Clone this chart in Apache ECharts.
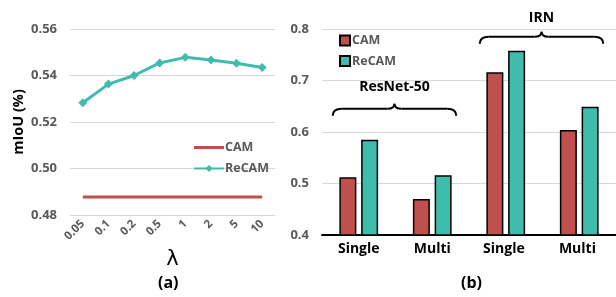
<!DOCTYPE html>
<html><head><meta charset="utf-8">
<script src="https://cdn.jsdelivr.net/npm/echarts@6/dist/echarts.min.js"></script>
<style>html,body{margin:0;padding:0;background:#fff}#c{width:616px;height:297px}</style>
</head><body><div id="c"></div>
<script>
const lambdas = ['0.05','0.1','0.2','0.5','1','2','5','10'];
const recamLine = [0.5283, 0.5363, 0.5400, 0.5454, 0.5478, 0.5467, 0.5453, 0.5434];
const camLine = [0.4877, 0.4877, 0.4877, 0.4877, 0.4877, 0.4877, 0.4877, 0.4877];
const barCats = ['Single','Multi','Single ','Multi '];
const camBar = [0.512, 0.470, 0.716, 0.604];
const recamBar = [0.585, 0.516, 0.758, 0.649];
const leftTicks = [0.48, 0.50, 0.52, 0.54, 0.56];
const rightTicks = [0.4, 0.5, 0.6, 0.7, 0.8];
const groupLabels = ['ResNet-50', 'IRN'];

const RED = '#C0504D', TEAL = '#40BCAC';
const FONT = 'Open Sans';
const chart = echarts.init(document.getElementById('c'));
const gray = '#595959';
chart.setOption({
  animation: false,
  textStyle: {fontFamily: FONT},
  title: [
    {text: '(a)', left: 153, top: 270, textStyle: {fontFamily: FONT, fontSize: 16, fontWeight: 'bold', color: '#000'}},
    {text: '(b)', left: 456, top: 270, textStyle: {fontFamily: FONT, fontSize: 16, fontWeight: 'bold', color: '#000'}}
  ],
  legend: [
    {data: [{name: 'CAM', icon: 'path://M0,0 L30,0 L30,3 L0,3 Z'}, {name: 'ReCAM'}], orient: 'vertical', left: 188, top: 136,
     itemWidth: 30, itemHeight: 9, itemGap: 8, symbolKeepAspect: true,
     textStyle: {fontFamily: FONT, fontSize: 12.5, fontWeight: 'bold', color: gray, padding: [0, 0, 0, -4]}},
    {data: [{name: 'CAM '}, {name: 'ReCAM '}], orient: 'vertical', left: 334, top: 29, itemWidth: 10, itemHeight: 10, itemGap: 7.5,
     icon: 'rect',
     textStyle: {fontFamily: FONT, fontSize: 12.5, fontWeight: 'bold', color: gray, padding: [0, 0, 0, -3]}}
  ],
  grid: [
    {left: 70, top: 29, width: 205, height: 186},
    {left: 322, top: 29, width: 294, height: 206}
  ],
  xAxis: [
    {gridIndex: 0, type: 'category', data: lambdas, boundaryGap: true,
     axisLine: {show: false}, axisTick: {show: false},
     axisLabel: {rotate: 45, fontFamily: FONT, fontSize: 11.5, fontWeight: 'bold', color: gray, margin: 7},
     name: 'λ', nameLocation: 'middle', nameGap: 32,
     nameTextStyle: {fontFamily: 'DejaVu Sans', fontSize: 21, color: '#000'}},
    {gridIndex: 1, type: 'category', data: barCats, boundaryGap: true,
     axisLine: {show: true, lineStyle: {color: '#000', width: 2}}, axisTick: {show: false},
     axisLabel: {fontFamily: FONT, fontSize: 14, fontWeight: 'bold', color: '#000', margin: 7}}
  ],
  yAxis: [
    {gridIndex: 0, type: 'value', min: 0.48, max: 0.56, interval: 0.02,
     axisLine: {show: false}, axisTick: {show: false},
     axisLabel: {fontFamily: FONT, fontSize: 13, fontWeight: 'bold', color: gray, margin: 13,
       formatter: v => v.toFixed(2)},
     splitLine: {lineStyle: {color: '#D9D9D9', width: 1}},
     name: 'mIoU (%)', nameLocation: 'middle', nameGap: 44,
     nameTextStyle: {fontFamily: FONT, fontSize: 14.5, fontWeight: 'bold', color: '#000'}},
    {gridIndex: 1, type: 'value', min: 0.4, max: 0.8, interval: 0.1,
     axisLine: {show: false}, axisTick: {show: false},
     axisLabel: {fontFamily: FONT, fontSize: 13, fontWeight: 'bold', color: gray, margin: 13,
       formatter: v => v.toFixed(1)},
     splitLine: {lineStyle: {color: '#D9D9D9', width: 1}}}
  ],
  series: [
    {name: 'CAM', type: 'line', xAxisIndex: 0, yAxisIndex: 0, data: camLine, showSymbol: false, symbol: 'none',
     lineStyle: {color: RED, width: 3}, itemStyle: {color: RED}},
    {name: 'ReCAM', type: 'line', xAxisIndex: 0, yAxisIndex: 0, data: recamLine, symbol: 'diamond', symbolSize: 9,
     lineStyle: {color: TEAL, width: 3}, itemStyle: {color: TEAL}},
    {name: 'CAM ', type: 'bar', xAxisIndex: 1, yAxisIndex: 1, data: camBar, barWidth: 17, barGap: '28%',
     itemStyle: {color: RED, borderColor: '#000', borderWidth: 1.5}},
    {name: 'ReCAM ', type: 'bar', xAxisIndex: 1, yAxisIndex: 1, data: recamBar, barWidth: 17, barGap: '28%',
     itemStyle: {color: TEAL, borderColor: '#000', borderWidth: 1.5}}
  ]
});

function brace(x1, x2, y) {
  const xm = (x1 + x2) / 2;
  const st = {stroke: '#000', lineWidth: 2, fill: 'none'};
  return [
    {type: 'bezierCurve', shape: {x1: x1, y1: y + 7, cpx1: x1, cpy1: y, x2: x1 + 9, y2: y}, style: st},
    {type: 'line', shape: {x1: x1 + 9, y1: y, x2: xm - 7, y2: y}, style: st},
    {type: 'bezierCurve', shape: {x1: xm - 7, y1: y, cpx1: xm, cpy1: y, x2: xm, y2: y - 5}, style: st},
    {type: 'bezierCurve', shape: {x1: xm, y1: y - 5, cpx1: xm, cpy1: y, x2: xm + 7, y2: y}, style: st},
    {type: 'line', shape: {x1: xm + 7, y1: y, x2: x2 - 9, y2: y}, style: st},
    {type: 'bezierCurve', shape: {x1: x2 - 9, y1: y, cpx1: x2, cpy1: y, x2: x2, y2: y + 7}, style: st}
  ];
}
let g = [];
const groups = [[0, 1, 0.645, 0.688], [2, 3, 0.785, 0.822]];
groups.forEach((gr, i) => {
  const a = chart.convertToPixel({xAxisIndex: 1, yAxisIndex: 1}, [gr[0], gr[2]]);
  const b = chart.convertToPixel({xAxisIndex: 1, yAxisIndex: 1}, [gr[1], gr[2]]);
  const t = chart.convertToPixel({xAxisIndex: 1, yAxisIndex: 1}, [gr[0], gr[3]]);
  const x1 = a[0] - 26, x2 = b[0] + 24;
  g = g.concat(brace(x1, x2, a[1]));
  g.push({type: 'text', x: (x1 + x2) / 2, y: t[1],
    style: {text: groupLabels[i], fill: '#000', font: 'bold 14px ' + FONT, align: 'center', verticalAlign: 'middle'}});
});
chart.setOption({graphic: g});
</script></body></html>
